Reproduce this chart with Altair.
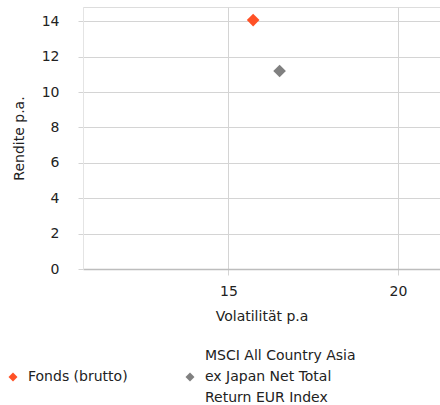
import altair as alt
import pandas as pd

series = ["Fonds (brutto)", "MSCI All Country Asia ex Japan Net Total Return EUR Index"]
volatility = [15.73, 16.51]
returns = [14.07, 11.19]
colors = ["#FF5126", "#808080"]

y_ticks = [0, 2, 4, 6, 8, 10, 12, 14]
x_ticks = [15, 20]

df = pd.DataFrame({"Serie": series, "Volatilität": volatility, "Rendite": returns})

FONT = "DejaVu Sans"
FS = 14
LH = 21

# multi-line legend labels (first line empty so the symbol sits at the middle line)
label_expr = (
    "datum.label == 'MSCI All Country Asia ex Japan Net Total Return EUR Index' ? "
    "['MSCI All Country Asia', 'ex Japan Net Total', 'Return EUR Index'] : "
    "['', datum.label, '']"
)

chart = (
    alt.Chart(df)
    .mark_point(shape="diamond", filled=True, size=160, opacity=1)
    .encode(
        x=alt.X(
            "Volatilität:Q",
            scale=alt.Scale(domain=[10.713, 21.24], nice=False, zero=False),
            axis=alt.Axis(
                title="Volatilität p.a",
                values=x_ticks,
                grid=True,
                gridColor="#d4d4d4",
                domainColor="#bdbdbd",
                domainWidth=1.5,
                tickColor="#d4d4d4",
                tickSize=6,
                labelPadding=9 + LH,
                labelFontSize=FS,
                labelColor="#222222",
                labelFont=FONT,
                titleFont=FONT,
                titleFontSize=FS,
                titleFontWeight="normal",
                titleColor="#222222",
                titlePadding=11,
            ),
        ),
        y=alt.Y(
            "Rendite:Q",
            scale=alt.Scale(domain=[0, 14.81], nice=False),
            axis=alt.Axis(
                title="Rendite p.a.",
                values=y_ticks,
                grid=True,
                gridColor="#d4d4d4",
                domainColor="#e4e4e4",
                tickColor="#d4d4d4",
                tickSize=5,
                labelPadding=19,
                labelOffset=LH,
                labelFontSize=FS,
                labelColor="#222222",
                labelFont=FONT,
                titleFont=FONT,
                titleFontSize=FS,
                titleFontWeight="normal",
                titleColor="#222222",
                titlePadding=15,
            ),
        ),
        color=alt.Color(
            "Serie:N",
            scale=alt.Scale(domain=series, range=colors),
            legend=alt.Legend(
                title=None,
                orient="none",
                legendX=-77,
                legendY=363,
                direction="horizontal",
                columns=2,
                columnPadding=55,
                symbolType="diamond",
                symbolSize=80,
                symbolOffset=0,
                labelOffset=8,
                labelFont=FONT,
                labelFontSize=FS,
                labelColor="#222222",
                labelLimit=300,
                labelExpr=label_expr,
            ),
        ),
    )
    .properties(
        width=357,
        height=262,
        padding={"left": 83, "top": 7, "right": 0, "bottom": 136},
        autosize=alt.AutoSizeParams(type="none"),
    )
    .configure_view(stroke=None)
    .configure(background="white", style={"guide-label": {"lineHeight": LH, "dy": -LH}})
)

chart.save("out.html", embed_options={"renderer": "svg", "actions": False})
